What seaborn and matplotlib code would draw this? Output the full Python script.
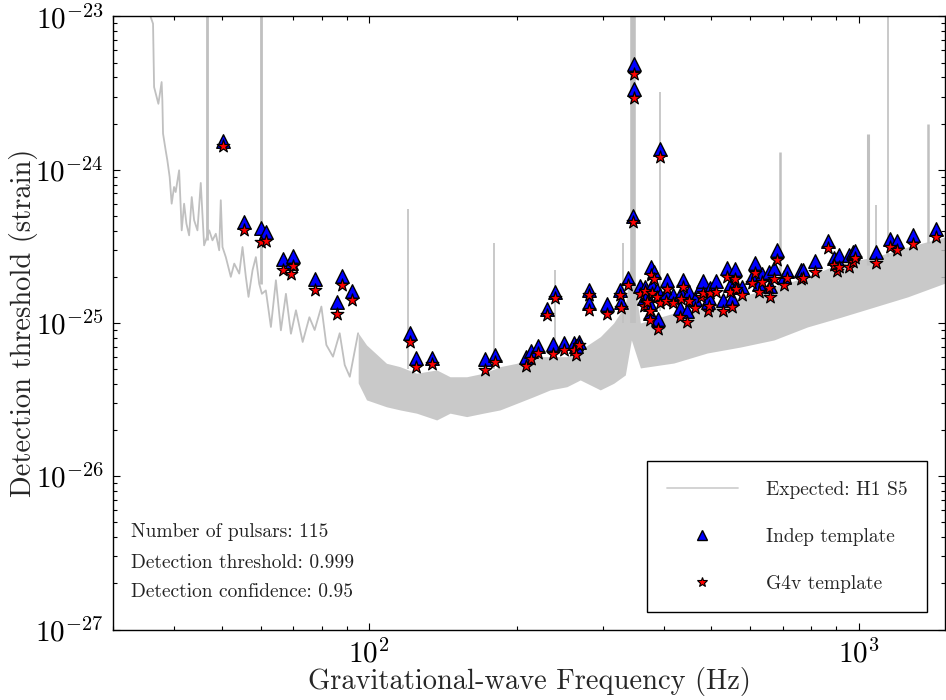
import matplotlib
matplotlib.use("Agg")
import matplotlib.pyplot as plt
import seaborn as sns
import pandas as pd
from matplotlib.lines import Line2D
from matplotlib.ticker import LogLocator, NullFormatter

# ---------------- data ----------------
# pulsar frequencies (Hz) and detection thresholds (strain)
psr_freq = [50.2, 55.5, 60.1, 61.4, 66.6, 69.1, 69.9, 77.5, 86.1, 87.8, 92.0,
            121.2, 124.3, 134.4, 172.6, 180.4, 208.8, 213.8, 221.0, 230.2,
            236.8, 239.0, 249.7, 261.8, 264.3, 268.5, 281.6, 281.6, 305.4,
            325.3, 326.3, 338.2, 345.4, 347.5, 347.5, 392.9,
            358, 364, 366, 369, 374, 374, 376, 378, 381, 387, 388, 392, 403,
            406, 418, 432, 433, 438, 445, 449, 462, 475, 481, 492, 494, 496,
            510, 528, 537, 545, 550, 558, 562, 578, 606, 613, 625, 635, 655,
            657, 671, 679, 703, 712, 763, 768, 814, 863, 890, 902, 911, 955,
            971, 983, 1086, 1159, 1196, 1289, 1438]
indep_h = [1.53e-24, 4.53e-25, 4.14e-25, 3.94e-25, 2.60e-25, 2.48e-25, 2.73e-25,
           1.94e-25, 1.38e-25, 2.02e-25, 1.61e-25,
           8.63e-26, 5.89e-26, 5.89e-26, 5.78e-26, 6.14e-26, 6.02e-26, 6.55e-26,
           7.06e-26, 1.24e-25, 7.24e-26, 1.59e-25, 7.43e-26, 7.41e-26, 7.13e-26,
           7.49e-26, 1.65e-25, 1.34e-25, 1.32e-25, 1.65e-25, 1.37e-25, 1.97e-25,
           4.98e-25, 4.86e-24, 3.37e-24, 1.36e-24,
           1.73e-25, 1.45e-25, 1.72e-25, 1.52e-25, 1.33e-25, 1.17e-25, 2.33e-25,
           1.77e-25, 2.14e-25, 1.64e-25, 1.06e-25, 1.52e-25, 1.56e-25, 1.91e-25,
           1.52e-25, 1.26e-25, 1.58e-25, 1.91e-25, 1.20e-25, 1.60e-25, 1.44e-25,
           1.74e-25, 1.87e-25, 1.37e-25, 1.45e-25, 1.68e-25, 1.87e-25, 1.41e-25,
           2.27e-25, 1.77e-25, 1.45e-25, 2.24e-25, 1.72e-25, 1.72e-25, 2.00e-25,
           2.45e-25, 1.80e-25, 2.08e-25, 2.16e-25, 1.75e-25, 2.27e-25, 3.00e-25,
           2.00e-25, 2.19e-25, 2.22e-25, 2.22e-25, 2.55e-25, 3.42e-25, 2.67e-25,
           2.60e-25, 2.78e-25, 2.78e-25, 2.92e-25, 2.96e-25, 2.92e-25, 3.52e-25,
           3.44e-25, 3.75e-25, 4.10e-25]
g4v_h = [1.42e-24, 4.06e-25, 3.35e-25, 3.44e-25, 2.20e-25, 2.10e-25, 2.35e-25,
         1.65e-25, 1.15e-25, 1.76e-25, 1.42e-25,
         7.50e-26, 5.15e-26, 5.36e-26, 4.97e-26, 5.55e-26, 5.23e-26, 5.78e-26,
         6.39e-26, 1.12e-25, 6.23e-26, 1.45e-25, 6.65e-26, 6.65e-26, 6.20e-26,
         7.16e-26, 1.52e-25, 1.21e-25, 1.15e-25, 1.52e-25, 1.26e-25, 1.78e-25,
         4.55e-25, 4.23e-24, 2.95e-24, 1.21e-24,
         1.55e-25, 1.29e-25, 1.62e-25, 1.38e-25, 1.19e-25, 1.05e-25, 2.06e-25,
         1.58e-25, 1.93e-25, 1.48e-25, 9.20e-26, 1.36e-25, 1.40e-25, 1.66e-25,
         1.34e-25, 1.09e-25, 1.43e-25, 1.72e-25, 1.02e-25, 1.40e-25, 1.25e-25,
         1.47e-25, 1.58e-25, 1.20e-25, 1.29e-25, 1.58e-25, 1.60e-25, 1.20e-25,
         1.99e-25, 1.60e-25, 1.28e-25, 1.93e-25, 1.66e-25, 1.52e-25, 1.83e-25,
         2.11e-25, 1.60e-25, 1.86e-25, 1.68e-25, 1.48e-25, 1.93e-25, 2.58e-25,
         1.77e-25, 1.96e-25, 1.93e-25, 1.96e-25, 2.16e-25, 3.07e-25, 2.39e-25,
         2.19e-25, 2.33e-25, 2.33e-25, 2.51e-25, 2.64e-25, 2.47e-25, 3.15e-25,
         2.99e-25, 3.26e-25, 3.62e-25]

# expected sensitivity curve, low-frequency part (single noisy trace)
low_f = [35.5, 35.76, 36.16, 36.34, 37.08, 37.65, 37.78, 37.90, 38.37, 38.68,
         39.10, 39.47, 39.92, 40.22, 40.88, 41.38, 41.85, 42.31, 42.85, 43.38,
         43.87, 44.56, 45.26, 45.98, 47.09, 47.82, 48.58, 49.36, 49.73, 50.13,
         50.92, 52.13, 52.98, 54.24, 55.08, 55.95, 56.66, 57.74, 58.65, 59.59,
         60.34, 61.47, 62.95, 64.45, 65.98, 67.56, 69.17, 70.82, 73.10, 75.44,
         77.34, 79.82, 81.71, 84.30, 87.00, 89.09, 91.23, 94.86]
low_h = [1.3e-23, 9.91e-24, 8.96e-24, 3.46e-24, 2.69e-24, 3.73e-24, 2.84e-24,
         1.72e-24, 1.34e-24, 1.15e-24, 8.96e-25, 6.00e-25, 7.71e-25, 7.15e-25,
         9.91e-25, 4.02e-25, 6.00e-25, 4.44e-25, 3.73e-25, 6.63e-25, 4.68e-25,
         4.02e-25, 8.19e-25, 3.21e-25, 4.02e-25, 3.46e-25, 3.82e-25, 2.98e-25,
         6.32e-25, 3.13e-25, 2.69e-25, 2.00e-25, 2.44e-25, 2.10e-25, 3.13e-25,
         2.00e-25, 1.48e-25, 2.21e-25, 2.69e-25, 1.80e-25, 1.55e-25, 1.63e-25,
         9.42e-26, 1.90e-25, 8.96e-26, 1.55e-25, 8.51e-26, 1.21e-25, 7.52e-26,
         1.09e-25, 9.00e-26, 1.28e-25, 7.19e-26, 6.03e-26, 8.57e-26, 5.32e-26,
         4.46e-26, 8.57e-26]

# expected sensitivity curve, dense band part (upper / lower envelope)
band_f = [94.9, 98.7, 108.4, 115.5, 124.9, 137.3, 146.2, 158.1, 171.0, 185.0,
          200.1, 216.4, 234.2, 253.3, 269.7, 296.4, 315.6, 333.4, 343.0, 357.9,
          418.8, 490.1, 573.4, 670.9, 785.2, 918.9, 1075, 1258, 1500]
band_hi = [8.61e-26, 7.19e-26, 5.46e-26, 5.19e-26, 4.70e-26, 4.94e-26, 4.46e-26,
           4.46e-26, 4.70e-26, 5.19e-26, 5.46e-26, 6.03e-26, 6.03e-26, 6.03e-26,
           6.67e-26, 8.14e-26, 1.00e-25, 1.31e-25, 2.58e-25, 1.00e-25, 1.16e-25,
           1.27e-25, 1.48e-25, 1.72e-25, 2.00e-25, 2.46e-25, 2.69e-25, 3.13e-25,
           3.64e-25]
band_lo = [4.06e-26, 3.15e-26, 2.84e-26, 2.71e-26, 2.58e-26, 2.33e-26, 2.58e-26,
           2.45e-26, 2.58e-26, 2.71e-26, 2.99e-26, 3.30e-26, 3.66e-26, 3.84e-26,
           4.25e-26, 3.66e-26, 4.04e-26, 4.58e-26, 7.75e-26, 5.09e-26, 5.48e-26,
           6.37e-26, 6.97e-26, 7.75e-26, 9.42e-26, 1.09e-25, 1.27e-25, 1.48e-25,
           1.82e-25]

# narrow instrumental lines in the expected curve
spike_f = [46.7, 60.0, 120.0, 180.0, 240.0, 330.0, 345.0, 393.0, 689.0,
           1042.0, 1083.0, 1148.0, 1387.0]
spike_top = [2e-23, 2e-23, 5.52e-25, 3.34e-25, 2.22e-25, 3.34e-25, 2e-23,
             3.23e-24, 1.3e-24, 1.7e-24, 5.89e-25, 2e-23, 2.0e-24]
spike_base = [3.5e-25, 1.8e-25, 5.0e-26, 5.0e-26, 6.0e-26, 1.0e-25, 1.0e-25,
              1.2e-25, 1.7e-25, 2.4e-25, 2.5e-25, 2.7e-25, 3.3e-25]

info_lines = ["Number of pulsars: 115",
              "Detection threshold: 0.999",
              "Detection confidence: 0.95"]

# ---------------- styling ----------------
sns.set_style("ticks")
plt.rcParams.update({
    "font.family": "serif",
    "font.serif": ["cmr10"],
    "mathtext.fontset": "cm",
    "axes.unicode_minus": False,
    "axes.formatter.use_mathtext": True,
    "axes.edgecolor": "black",
    "axes.linewidth": 1.0,
})
spike_lw = [2.0, 2.0, 1.2, 1.2, 1.2, 1.2, 4.0, 1.2, 1.8, 2.2, 1.2, 1.2, 1.8]
GREY = "#c0c0c0"

fig = plt.figure(figsize=(9.46, 7.0), dpi=100)
ax = fig.add_axes([0.1198, 0.1006, 0.8792, 0.876])
ax.set_xscale("log")
ax.set_yscale("log")

# expected curve
ax.fill_between(band_f, band_lo, band_hi, color=GREY, alpha=0.85, lw=0,
                zorder=1)
sns.lineplot(x=low_f, y=low_h, color=GREY, lw=1.3, estimator=None,
             sort=False, ax=ax, zorder=1)
ax.vlines(spike_f, spike_base, spike_top, colors=GREY, linewidths=spike_lw,
          zorder=1)

# pulsar upper limits
df = pd.DataFrame({"f": psr_freq, "indep": indep_h, "g4v": g4v_h})
sns.scatterplot(data=df, x="f", y="indep", marker="^", s=95, color="#0000ff",
                edgecolor="black", linewidth=1.0, ax=ax, zorder=3)
sns.scatterplot(data=df, x="f", y="g4v", marker="*", s=90, color="#ff0000",
                edgecolor="black", linewidth=0.9, ax=ax, zorder=4)

ax.set_xlim(30, 1500)
ax.set_ylim(1e-27, 1e-23)
ax.xaxis.set_minor_formatter(NullFormatter())
ax.yaxis.set_minor_locator(LogLocator(base=10, subs=range(2, 10), numticks=20))
ax.yaxis.set_minor_formatter(NullFormatter())
ax.tick_params(which="both", direction="in", top=True, right=True,
               colors="black", labelsize=21, width=0.8)
ax.tick_params(which="major", length=5, pad=7)
ax.tick_params(which="minor", length=3)
ax.set_xlabel("Gravitational-wave Frequency (Hz)", fontsize=20.5, labelpad=-1)
ax.set_ylabel("Detection threshold (strain)", fontsize=20.5, labelpad=-2)

for txt, yy in zip(info_lines, [0.159, 0.108, 0.062]):
    ax.text(0.021, yy, txt, transform=ax.transAxes, fontsize=14,
            va="center", ha="left", color="#222222")

handles = [Line2D([], [], color="#d0d0d0", lw=1.3),
           Line2D([], [], marker="^", ls="none", markersize=9,
                  markerfacecolor="#0000ff", markeredgecolor="black", mew=1.0),
           Line2D([], [], marker="*", ls="none", markersize=9,
                  markerfacecolor="#ff0000", markeredgecolor="black", mew=0.8)]
labels = ["Expected: H1 S5", "Indep template", "G4v template"]
leg = ax.legend(handles, labels, loc="lower right",
                bbox_to_anchor=(0.978, 0.0282), borderaxespad=0,
                fontsize=14, frameon=True, fancybox=False, framealpha=1,
                edgecolor="black", borderpad=1.0, labelspacing=1.5,
                handlelength=3.7, handletextpad=1.4, markerscale=0.8)
leg.get_frame().set_linewidth(1.0)

fig.savefig("out.png", dpi=100)
